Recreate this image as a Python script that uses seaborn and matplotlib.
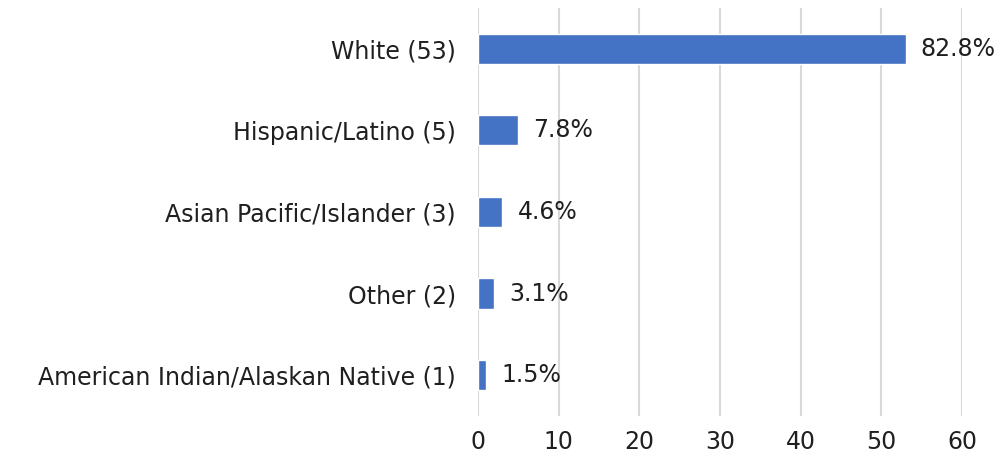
import matplotlib
matplotlib.use("Agg")
import matplotlib.pyplot as plt
import seaborn as sns
import pandas as pd

categories = [
    "White (53)",
    "Hispanic/Latino (5)",
    "Asian Pacific/Islander (3)",
    "Other (2)",
    "American Indian/Alaskan Native (1)",
]
counts = [53, 5, 3, 2, 1]
pct_labels = ["82.8%", "7.8%", "4.6%", "3.1%", "1.5%"]
x_ticks = [0, 10, 20, 30, 40, 50, 60]

df = pd.DataFrame({"category": categories, "count": counts})

sns.set_style("white")
plt.rcParams["font.family"] = ["DejaVu Sans"]

fig = plt.figure(figsize=(10, 4.63), dpi=100)
ax = fig.add_axes([0.478, 0.1015, 0.484, 0.8815])

sns.barplot(
    data=df,
    x="count",
    y="category",
    color="#4472C4",
    width=0.37,
    saturation=1,
    ax=ax,
    zorder=3,
)

# percentage labels to the right of each bar
for patch, label in zip(ax.patches, pct_labels):
    ax.annotate(
        label,
        (patch.get_width(), patch.get_y() + patch.get_height() / 2),
        xytext=(11, 0),
        textcoords="offset points",
        ha="left",
        va="center",
        fontsize=17,
        color="#1f1f1f",
    )

ax.set_xlim(0, 60)
ax.set_ylim(4.5, -0.5)
ax.set_xticks(x_ticks)
ax.xaxis.grid(True, color="#D9D9D9", linewidth=1.5, zorder=0)
ax.set_axisbelow(True)
ax.set_xlabel("")
ax.set_ylabel("")
ax.tick_params(axis="both", length=0, labelsize=17, labelcolor="#1f1f1f")
ax.tick_params(axis="x", pad=10)
ax.tick_params(axis="y", pad=16)
sns.despine(ax=ax, left=True, bottom=True)

fig.savefig("out.png", dpi=100)
